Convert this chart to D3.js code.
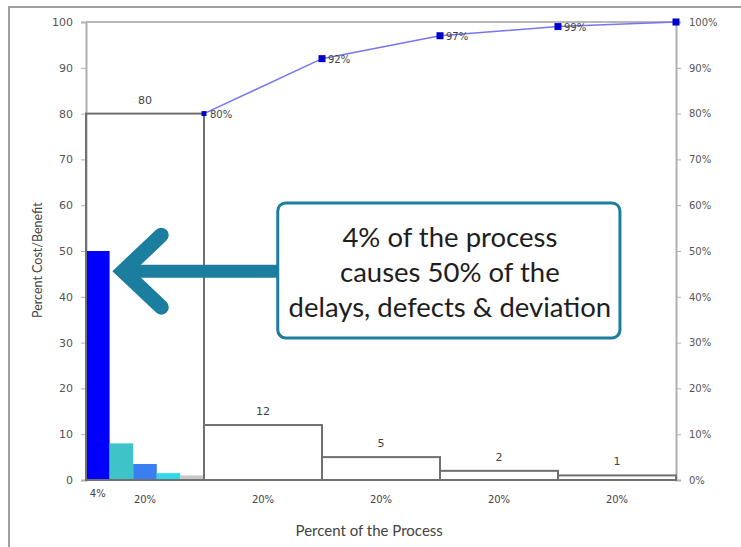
<!DOCTYPE html>
<html><head><meta charset="utf-8">
<script src="https://cdn.jsdelivr.net/npm/d3@7"></script>
<style>body{margin:0;background:#fff}svg{display:block}</style>
</head><body>
<svg id="c" width="741" height="547"></svg>
<script>
// ---- data ----
const segStarts = [0, 20, 40, 60, 80];
const segWidth = 20;
const segValues = [80, 12, 5, 2, 1];
const cumValues = [80, 92, 97, 99, 100];
const cumX = [20, 40, 60, 80, 100];
const subStarts = [0, 4, 8, 12, 16];
const subWidth = 4;
const subValues = [50, 8, 3.5, 1.5, 1];
const subColors = ["#0000ff", "#3cc4c8", "#3a7ff2", "#30d8e8", "#c8c8c8"];
const xTickPos = [2, 10, 30, 50, 70, 90];
const xTickLabels = ["4%", "20%", "20%", "20%", "20%", "20%"];
const yTicks = [0, 10, 20, 30, 40, 50, 60, 70, 80, 90, 100];
const callout = ["4% of the process", "causes 50% of the", "delays, defects & deviation"];

const svg = d3.select("#c");
const W = 741, H = 547;
const m = {l: 86, r: 65, t: 22, b: 67};
const x = d3.scaleLinear().domain([0, 100]).range([m.l, W - m.r]);
const y = d3.scaleLinear().domain([0, 100]).range([H - m.b, m.t]);
const yr = d3.scaleLinear().domain([0, 1]).range([H - m.b, m.t]);

// outer frame
svg.append("rect").attr("x", 9).attr("y", 7).attr("width", 740).attr("height", 545)
  .attr("fill", "none").attr("stroke", "#a0a0a0").attr("stroke-width", 2);

const g = svg.append("g");
g.append("line").attr("x1", x(0)).attr("x2", x(100)).attr("y1", y(100)).attr("y2", y(100))
  .attr("stroke", "#b8b8b8").attr("stroke-width", 2);

// left axis
const la = g.append("g").attr("transform", `translate(${x(0)},0)`)
  .call(d3.axisLeft(y).tickValues(yTicks).tickSize(5).tickPadding(8));
la.select(".domain").attr("stroke", "#b0b0b0").attr("stroke-width", 2);
la.selectAll(".tick line").attr("stroke", "#b0b0b0");
la.selectAll("text").attr("font-family", "DejaVu Sans, Verdana").attr("font-size", 11).attr("fill", "#555");

// right axis
const ra = g.append("g").attr("transform", `translate(${x(100)},0)`)
  .call(d3.axisRight(yr).tickValues(yTicks.map(d => d / 100)).tickFormat(d3.format(".0%")).tickSize(5).tickPadding(8));
ra.select(".domain").attr("stroke", "#b0b0b0").attr("stroke-width", 2);
ra.selectAll(".tick line").attr("stroke", "#b0b0b0");
ra.selectAll("text").attr("font-family", "DejaVu Sans, Verdana").attr("font-size", 10).attr("fill", "#555");

// bottom axis line
g.append("line").attr("x1", x(0)).attr("x2", x(100)).attr("y1", y(0)).attr("y2", y(0))
  .attr("stroke", "#b0b0b0").attr("stroke-width", 2);

// sub-bars
g.selectAll(".sub").data(subValues).join("rect")
  .attr("x", (d, i) => x(subStarts[i]))
  .attr("width", (d, i) => x(subStarts[i] + subWidth) - x(subStarts[i]))
  .attr("y", d => y(d)).attr("height", d => y(0) - y(d))
  .attr("fill", (d, i) => subColors[i]);

// segment boxes
g.selectAll(".seg").data(segValues).join("rect")
  .attr("x", (d, i) => x(segStarts[i]))
  .attr("width", (d, i) => x(segStarts[i] + segWidth) - x(segStarts[i]))
  .attr("y", d => y(d)).attr("height", d => y(0) - y(d))
  .attr("fill", "none").attr("stroke", "#707070").attr("stroke-width", 2);

g.selectAll(".segl").data(segValues).join("text")
  .attr("x", (d, i) => x(segStarts[i] + segWidth / 2))
  .attr("y", d => y(d) - 10)
  .attr("text-anchor", "middle").attr("font-family", "DejaVu Sans, Verdana").attr("font-size", 11).attr("fill", "#444")
  .text(d => d);

// cumulative line
const pts = cumValues.map((v, i) => [x(cumX[i]), y(v)]);
g.append("path").attr("d", d3.line()(pts)).attr("fill", "none").attr("stroke", "#7676ee").attr("stroke-width", 1.5);
g.selectAll(".mk").data(cumValues).join("rect")
  .attr("x", (d, i) => x(cumX[i]) - (i === 0 ? 2.5 : 3.5))
  .attr("y", (d, i) => y(d) - (i === 0 ? 2.5 : 3.5))
  .attr("width", (d, i) => i === 0 ? 5 : 7).attr("height", (d, i) => i === 0 ? 5 : 7)
  .attr("fill", "#0000cc");
g.selectAll(".cl").data(cumValues.slice(0, 4)).join("text")
  .attr("x", (d, i) => x(cumX[i]) + 6)
  .attr("y", d => y(d) + 4)
  .attr("font-family", "DejaVu Sans, Verdana").attr("font-size", 10).attr("fill", "#444")
  .text(d => d + "%");

// x tick labels
g.selectAll(".xl").data(xTickLabels).join("text")
  .attr("x", (d, i) => x(xTickPos[i]))
  .attr("y", (d, i) => i === 0 ? y(0) + 17 : y(0) + 23)
  .attr("text-anchor", "middle").attr("font-family", "DejaVu Sans, Verdana").attr("font-size", 10).attr("fill", "#444")
  .text(d => d);

// axis titles
svg.append("text").attr("x", x(48)).attr("y", 536).attr("text-anchor", "middle")
  .attr("font-family", "Lato, Open Sans").attr("font-size", 15).attr("fill", "#444")
  .text("Percent of the Process");
svg.append("text").attr("transform", `translate(42,${y(48)}) rotate(-90)`).attr("text-anchor", "middle")
  .attr("font-family", "Lato, Open Sans").attr("font-size", 12.5).attr("fill", "#444")
  .text("Percent Cost/Benefit");

// callout arrow
const teal = "#1b7e9e";
const tip = [x(5.3), y(45.6)];
svg.append("line").attr("x1", tip[0] + 6).attr("x2", x(32.5)).attr("y1", tip[1]).attr("y2", tip[1])
  .attr("stroke", teal).attr("stroke-width", 13);
svg.append("path").attr("d", d3.line()([[tip[0] + 44, tip[1] - 36], [tip[0] + 6, tip[1]], [tip[0] + 44, tip[1] + 36]]))
  .attr("fill", "none").attr("stroke", teal).attr("stroke-width", 15).attr("stroke-linecap", "round").attr("stroke-linejoin", "miter");

// callout box
const bx = x(32.5), by = y(60.5), bw = x(90.5) - x(32.5), bh = y(31) - y(60.5);
svg.append("rect").attr("x", bx).attr("y", by).attr("width", bw).attr("height", bh)
  .attr("rx", 8).attr("fill", "#fff").attr("stroke", teal).attr("stroke-width", 3);
svg.selectAll(".ct").data(callout).join("text")
  .attr("x", bx + bw / 2 + 1).attr("y", (d, i) => by + 44 + i * 35)
  .attr("text-anchor", "middle").attr("font-family", "Lato, Open Sans").attr("font-size", 27.5).attr("fill", "#1e1e1e")
  .text(d => d);
</script>
</body></html>
